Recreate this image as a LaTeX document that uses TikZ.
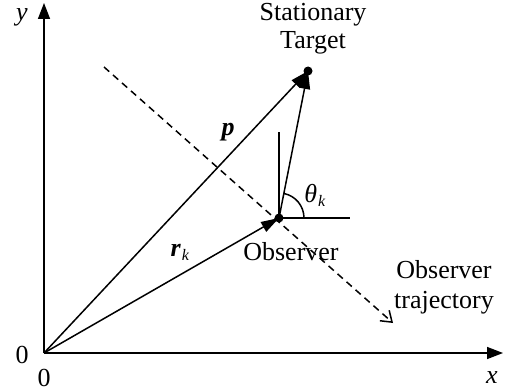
\documentclass[tikz,border=0pt]{standalone}
\usepackage{fontspec}
\setmainfont{Liberation Serif}
\usetikzlibrary{arrows.meta}

\newcommand{\subk}[1]{\textit{#1}\kern0.5pt\raisebox{-0.35ex}{\footnotesize\textit{k}}}

\begin{document}
\begin{tikzpicture}[
  x=0.5pt, y=0.5pt,
  axis/.style={-{Triangle[length=8pt, width=6pt]}, line width=0.75pt},
  vec/.style={-{Triangle[length=9pt, width=5.5pt]}, line width=0.75pt},
  track/.style={-{Straight Barb[length=5pt, width=7pt]}, dash pattern=on 3.5pt off 2.5pt, line width=0.75pt},
  thin line/.style={line width=0.75pt},
  dot/.style={circle, fill, minimum size=4.5pt, inner sep=0pt},
  lbl/.style={font=\fontsize{13pt}{15pt}\selectfont, inner sep=0pt, align=center}
]
\useasboundingbox (0,0) rectangle (506,391);

\coordinate (O) at (44,38);
\coordinate (ytip) at (44,388);
\coordinate (xtip) at (503,38);
\coordinate (T) at (308,320);
\coordinate (B) at (279,173);
\coordinate (vtop) at (279,259);
\coordinate (hend) at (350,173);
\coordinate (tr0) at (104,324);
\coordinate (tr1) at (393,68);

\draw[axis] (O) -- (ytip);
\draw[axis] (O) -- (xtip);
\draw[track] (tr0) -- (tr1);

\draw[vec] (O) -- (T);
\draw[vec] (O) -- (B);
\draw[vec] (B) -- (T);
\draw[thin line] (B) -- (vtop);
\draw[thin line] (B) -- (hend);
\draw[thin line] (B) ++(25,0) arc[start angle=0, end angle=79, radius=25];

\node[dot] (target) at (T) {};
\node[dot] (observer) at (B) {};

\node[lbl] (targetlbl) at (313,362) {Stationary\\[-1pt]Target};
\node[lbl] (observerlbl) at (291,139) {Observer};
\node[lbl] (tracklbl) at (444,104) {Observer\\[0pt]trajectory};
\node[lbl] (plbl) at (228,259) {\textbf{\textit{p}}};
\node[lbl] (rlbl) at (180,139) {\subk{\textbf{r}}};
\node[lbl] (thetalbl) at (315,196) {\subk{θ}};
\node[lbl] (ylbl) at (22,374) {\textit{y}};
\node[lbl] (xlbl) at (492,13) {\textit{x}};
\node[lbl] (zeroy) at (22,36) {0};
\node[lbl] (zerox) at (44,13) {0};
\end{tikzpicture}
\end{document}
